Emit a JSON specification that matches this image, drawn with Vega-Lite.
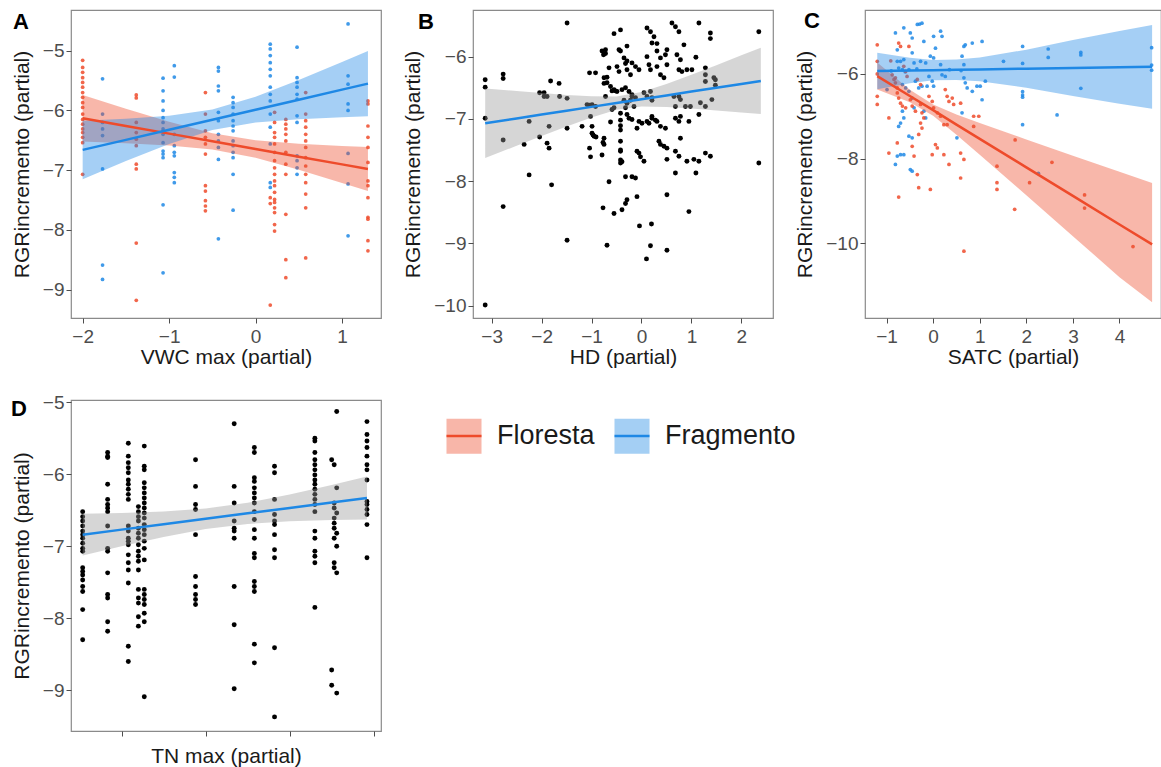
{
  "$schema": "https://vega.github.io/schema/vega-lite/v6.json",
  "background": "white",
  "padding": {"left": 10, "top": 9, "right": 0, "bottom": 0},
  "columns": 3,
  "align": "each",
  "bounds": "flush",
  "spacing": {"row": 82, "column": 92},
  "resolve": {"legend": {"fill": "independent", "stroke": "independent", "color": "independent"}},
  "config": {
    "font": "Liberation Sans",
    "view": {"stroke": "#8a8a8a", "strokeWidth": 1.2},
    "axis": {"grid": false, "domain": false, "tickColor": "#4d4d4d", "tickSize": 5, "labelFontSize": 19, "labelColor": "#4d4d4d", "titleFontSize": 21, "titleColor": "#1a1a1a", "titleFontWeight": "normal", "labelFont": "Liberation Sans", "titleFont": "Liberation Sans", "format": "d"},
    "axisX": {"labelPadding": 4, "titlePadding": 0},
    "axisY": {"labelPadding": 2, "titlePadding": 10},
    "title": {"fontSize": 22, "fontWeight": "bold", "anchor": "start", "frame": "group", "color": "#000000", "baseline": "top", "offset": 0, "font": "Liberation Sans"}
  },
  "datasets": {
    "ptsA": [
      {"x":-2,"y":-5.16,"g":"Floresta"},{"x":-2,"y":-5.28,"g":"Floresta"},{"x":-2,"y":-5.36,"g":"Floresta"},{"x":-2,"y":-5.45,"g":"Floresta"},{"x":-2,"y":-5.53,"g":"Floresta"},{"x":-2,"y":-5.61,"g":"Floresta"},{"x":-2,"y":-5.7,"g":"Floresta"},{"x":-2,"y":-5.78,"g":"Floresta"},{"x":-2,"y":-5.87,"g":"Floresta"},{"x":-2,"y":-5.95,"g":"Floresta"},{"x":-2,"y":-6.06,"g":"Floresta"},{"x":-2,"y":-6.15,"g":"Floresta"},{"x":-2,"y":-6.23,"g":"Floresta"},{"x":-2,"y":-6.31,"g":"Floresta"},{"x":-2,"y":-6.37,"g":"Floresta"},{"x":-2,"y":-6.45,"g":"Floresta"},{"x":-2,"y":-6.54,"g":"Floresta"},{"x":-2,"y":-7.07,"g":"Floresta"},
      {"x":-1.38,"y":-5.74,"g":"Floresta"},{"x":-1.38,"y":-5.79,"g":"Floresta"},{"x":-1.38,"y":-6.2,"g":"Floresta"},{"x":-1.38,"y":-6.37,"g":"Floresta"},{"x":-1.38,"y":-6.48,"g":"Floresta"},{"x":-1.38,"y":-6.59,"g":"Floresta"},{"x":-1.38,"y":-6.9,"g":"Floresta"},{"x":-1.38,"y":-6.98,"g":"Floresta"},{"x":-1.38,"y":-8.22,"g":"Floresta"},{"x":-1.38,"y":-9.18,"g":"Floresta"},
      {"x":-1.07,"y":-6.35,"g":"Floresta"},
      {"x":-0.58,"y":-5.7,"g":"Floresta"},{"x":-0.58,"y":-6.06,"g":"Floresta"},{"x":-0.58,"y":-6.34,"g":"Floresta"},{"x":-0.58,"y":-6.45,"g":"Floresta"},{"x":-0.58,"y":-6.56,"g":"Floresta"},{"x":-0.58,"y":-6.73,"g":"Floresta"},{"x":-0.58,"y":-7.26,"g":"Floresta"},{"x":-0.58,"y":-7.35,"g":"Floresta"},{"x":-0.58,"y":-7.51,"g":"Floresta"},{"x":-0.58,"y":-7.6,"g":"Floresta"},{"x":-0.58,"y":-7.68,"g":"Floresta"},
      {"x":0.17,"y":-7.46,"g":"Floresta"},{"x":0.17,"y":-7.56,"g":"Floresta"},
      {"x":0.22,"y":-6.03,"g":"Floresta"},{"x":0.22,"y":-6.2,"g":"Floresta"},{"x":0.22,"y":-6.37,"g":"Floresta"},{"x":0.22,"y":-6.45,"g":"Floresta"},{"x":0.22,"y":-6.56,"g":"Floresta"},{"x":0.22,"y":-6.7,"g":"Floresta"},{"x":0.22,"y":-6.84,"g":"Floresta"},{"x":0.22,"y":-6.96,"g":"Floresta"},{"x":0.22,"y":-7.07,"g":"Floresta"},{"x":0.22,"y":-7.18,"g":"Floresta"},{"x":0.22,"y":-7.26,"g":"Floresta"},{"x":0.22,"y":-7.37,"g":"Floresta"},{"x":0.22,"y":-7.49,"g":"Floresta"},{"x":0.22,"y":-7.54,"g":"Floresta"},{"x":0.22,"y":-7.63,"g":"Floresta"},{"x":0.22,"y":-7.71,"g":"Floresta"},{"x":0.22,"y":-7.91,"g":"Floresta"},{"x":0.22,"y":-8.02,"g":"Floresta"},{"x":0.17,"y":-9.26,"g":"Floresta"},
      {"x":0.35,"y":-6.15,"g":"Floresta"},{"x":0.35,"y":-6.23,"g":"Floresta"},{"x":0.35,"y":-6.31,"g":"Floresta"},{"x":0.35,"y":-6.4,"g":"Floresta"},{"x":0.35,"y":-6.51,"g":"Floresta"},{"x":0.35,"y":-6.7,"g":"Floresta"},{"x":0.35,"y":-6.9,"g":"Floresta"},{"x":0.35,"y":-7.07,"g":"Floresta"},{"x":0.35,"y":-7.74,"g":"Floresta"},{"x":0.35,"y":-8.5,"g":"Floresta"},{"x":0.35,"y":-8.8,"g":"Floresta"},
      {"x":0.58,"y":-5.7,"g":"Floresta"},{"x":0.58,"y":-6.06,"g":"Floresta"},{"x":0.58,"y":-6.17,"g":"Floresta"},{"x":0.58,"y":-6.28,"g":"Floresta"},{"x":0.58,"y":-6.4,"g":"Floresta"},{"x":0.58,"y":-6.51,"g":"Floresta"},{"x":0.58,"y":-6.62,"g":"Floresta"},{"x":0.58,"y":-6.79,"g":"Floresta"},{"x":0.58,"y":-6.93,"g":"Floresta"},{"x":0.58,"y":-7.07,"g":"Floresta"},{"x":0.58,"y":-7.21,"g":"Floresta"},{"x":0.58,"y":-7.4,"g":"Floresta"},{"x":0.58,"y":-7.63,"g":"Floresta"},{"x":0.58,"y":-8.47,"g":"Floresta"},
      {"x":1.3,"y":-5.84,"g":"Floresta"},{"x":1.3,"y":-5.89,"g":"Floresta"},{"x":1.3,"y":-6.26,"g":"Floresta"},{"x":1.3,"y":-6.45,"g":"Floresta"},{"x":1.3,"y":-6.62,"g":"Floresta"},{"x":1.3,"y":-6.87,"g":"Floresta"},{"x":1.3,"y":-7.18,"g":"Floresta"},{"x":1.3,"y":-7.26,"g":"Floresta"},{"x":1.3,"y":-7.46,"g":"Floresta"},{"x":1.3,"y":-7.79,"g":"Floresta"},{"x":1.3,"y":-7.82,"g":"Floresta"},{"x":1.3,"y":-8.18,"g":"Floresta"},{"x":1.3,"y":-8.35,"g":"Floresta"},
      {"x":-1.77,"y":-5.47,"g":"Fragmento"},{"x":-1.77,"y":-6.06,"g":"Fragmento"},{"x":-1.77,"y":-6.2,"g":"Fragmento"},{"x":-1.77,"y":-6.31,"g":"Fragmento"},{"x":-1.77,"y":-6.42,"g":"Fragmento"},{"x":-1.77,"y":-6.98,"g":"Fragmento"},{"x":-1.77,"y":-8.59,"g":"Fragmento"},{"x":-1.77,"y":-8.83,"g":"Fragmento"},
      {"x":-1.07,"y":-5.46,"g":"Fragmento"},{"x":-1.07,"y":-5.67,"g":"Fragmento"},{"x":-1.07,"y":-5.84,"g":"Fragmento"},{"x":-1.07,"y":-6.0,"g":"Fragmento"},{"x":-1.07,"y":-6.12,"g":"Fragmento"},{"x":-1.07,"y":-6.2,"g":"Fragmento"},{"x":-1.07,"y":-6.31,"g":"Fragmento"},{"x":-1.07,"y":-6.4,"g":"Fragmento"},{"x":-1.07,"y":-6.54,"g":"Fragmento"},{"x":-1.07,"y":-6.68,"g":"Fragmento"},{"x":-1.07,"y":-6.73,"g":"Fragmento"},{"x":-1.07,"y":-6.79,"g":"Fragmento"},{"x":-1.07,"y":-7.58,"g":"Fragmento"},{"x":-1.07,"y":-8.72,"g":"Fragmento"},
      {"x":-0.94,"y":-5.25,"g":"Fragmento"},{"x":-0.94,"y":-5.44,"g":"Fragmento"},{"x":-0.94,"y":-6.4,"g":"Fragmento"},{"x":-0.94,"y":-6.59,"g":"Fragmento"},{"x":-0.94,"y":-6.7,"g":"Fragmento"},{"x":-0.94,"y":-6.76,"g":"Fragmento"},{"x":-0.94,"y":-7.04,"g":"Fragmento"},{"x":-0.94,"y":-7.12,"g":"Fragmento"},{"x":-0.94,"y":-7.21,"g":"Fragmento"},
      {"x":-0.43,"y":-5.28,"g":"Fragmento"},{"x":-0.43,"y":-5.34,"g":"Fragmento"},{"x":-0.43,"y":-5.59,"g":"Fragmento"},{"x":-0.43,"y":-5.67,"g":"Fragmento"},{"x":-0.43,"y":-6.03,"g":"Fragmento"},{"x":-0.43,"y":-6.17,"g":"Fragmento"},{"x":-0.43,"y":-6.4,"g":"Fragmento"},{"x":-0.43,"y":-6.51,"g":"Fragmento"},{"x":-0.43,"y":-6.62,"g":"Fragmento"},{"x":-0.43,"y":-6.82,"g":"Fragmento"},{"x":-0.43,"y":-8.15,"g":"Fragmento"},
      {"x":-0.26,"y":-5.78,"g":"Fragmento"},{"x":-0.26,"y":-5.87,"g":"Fragmento"},{"x":-0.26,"y":-5.95,"g":"Fragmento"},{"x":-0.26,"y":-6.06,"g":"Fragmento"},{"x":-0.26,"y":-6.17,"g":"Fragmento"},{"x":-0.26,"y":-6.26,"g":"Fragmento"},{"x":-0.26,"y":-6.34,"g":"Fragmento"},{"x":-0.26,"y":-6.51,"g":"Fragmento"},{"x":-0.26,"y":-6.59,"g":"Fragmento"},{"x":-0.26,"y":-6.7,"g":"Fragmento"},{"x":-0.26,"y":-6.79,"g":"Fragmento"},{"x":-0.26,"y":-7.07,"g":"Fragmento"},{"x":-0.26,"y":-7.67,"g":"Fragmento"},
      {"x":0.17,"y":-4.89,"g":"Fragmento"},{"x":0.17,"y":-4.97,"g":"Fragmento"},{"x":0.17,"y":-5.08,"g":"Fragmento"},{"x":0.17,"y":-5.2,"g":"Fragmento"},{"x":0.17,"y":-5.31,"g":"Fragmento"},{"x":0.17,"y":-5.42,"g":"Fragmento"},{"x":0.17,"y":-5.61,"g":"Fragmento"},{"x":0.17,"y":-5.73,"g":"Fragmento"},{"x":0.17,"y":-5.84,"g":"Fragmento"},{"x":0.17,"y":-6.06,"g":"Fragmento"},{"x":0.17,"y":-6.28,"g":"Fragmento"},{"x":0.17,"y":-6.56,"g":"Fragmento"},{"x":0.17,"y":-7.21,"g":"Fragmento"},{"x":0.17,"y":-7.29,"g":"Fragmento"},
      {"x":0.48,"y":-4.94,"g":"Fragmento"},{"x":0.48,"y":-5.45,"g":"Fragmento"},{"x":0.48,"y":-5.53,"g":"Fragmento"},{"x":0.48,"y":-5.61,"g":"Fragmento"},{"x":0.48,"y":-5.73,"g":"Fragmento"},{"x":0.48,"y":-5.81,"g":"Fragmento"},{"x":0.48,"y":-6.09,"g":"Fragmento"},{"x":0.48,"y":-6.2,"g":"Fragmento"},{"x":0.48,"y":-6.76,"g":"Fragmento"},{"x":0.48,"y":-6.84,"g":"Fragmento"},{"x":0.48,"y":-6.96,"g":"Fragmento"},{"x":0.48,"y":-7.07,"g":"Fragmento"},
      {"x":1.07,"y":-4.55,"g":"Fragmento"},{"x":1.07,"y":-5.42,"g":"Fragmento"},{"x":1.07,"y":-5.56,"g":"Fragmento"},{"x":1.07,"y":-5.89,"g":"Fragmento"},{"x":1.07,"y":-6.0,"g":"Fragmento"},{"x":1.07,"y":-6.72,"g":"Fragmento"},{"x":1.07,"y":-7.23,"g":"Fragmento"},{"x":1.07,"y":-8.1,"g":"Fragmento"}
    ],
    "bandA": [
      {"x":-2,"fit":-6.13,"lo":-6.52,"hi":-5.74,"g":"Floresta"},{"x":-1.5,"fit":-6.259,"lo":-6.549,"hi":-5.969,"g":"Floresta"},{"x":-1,"fit":-6.388,"lo":-6.588,"hi":-6.188,"g":"Floresta"},{"x":-0.5,"fit":-6.517,"lo":-6.654,"hi":-6.38,"g":"Floresta"},{"x":0,"fit":-6.645,"lo":-6.79,"hi":-6.5,"g":"Floresta"},{"x":0.5,"fit":-6.774,"lo":-6.991,"hi":-6.557,"g":"Floresta"},{"x":1,"fit":-6.903,"lo":-7.213,"hi":-6.593,"g":"Floresta"},{"x":1.3,"fit":-6.98,"lo":-7.35,"hi":-6.61,"g":"Floresta"},
      {"x":-2,"fit":-6.66,"lo":-7.15,"hi":-6.17,"g":"Fragmento"},{"x":-1.5,"fit":-6.492,"lo":-6.847,"hi":-6.137,"g":"Fragmento"},{"x":-1,"fit":-6.324,"lo":-6.56,"hi":-6.088,"g":"Fragmento"},{"x":-0.5,"fit":-6.155,"lo":-6.326,"hi":-5.984,"g":"Fragmento"},{"x":0,"fit":-5.987,"lo":-6.203,"hi":-5.771,"g":"Fragmento"},{"x":0.5,"fit":-5.819,"lo":-6.148,"hi":-5.49,"g":"Fragmento"},{"x":1,"fit":-5.651,"lo":-6.113,"hi":-5.189,"g":"Fragmento"},{"x":1.3,"fit":-5.55,"lo":-6.096,"hi":-5.004,"g":"Fragmento"}
    ],
    "ptsB": [
      {"x":-3.13,"y":-6.37},{"x":-3.13,"y":-6.49},{"x":-3.13,"y":-6.99},{"x":-3.13,"y":-9.99},
      {"x":-2.77,"y":-6.28},{"x":-2.77,"y":-6.35},{"x":-2.77,"y":-7.34},{"x":-2.77,"y":-8.41},
      {"x":-2.35,"y":-7.41},{"x":-2.25,"y":-7.9},{"x":-2.25,"y":-7.04},
      {"x":-2.04,"y":-6.58},{"x":-1.95,"y":-6.58},{"x":-1.95,"y":-6.64},{"x":-2.04,"y":-7.29},{"x":-1.89,"y":-6.64},
      {"x":-1.89,"y":-7.39},{"x":-1.85,"y":-7.47},{"x":-1.85,"y":-7.12},{"x":-1.82,"y":-6.39},{"x":-1.8,"y":-8.06},
      {"x":-1.65,"y":-6.43},{"x":-1.64,"y":-6.64},
      {"x":-1.49,"y":-5.46},{"x":-1.49,"y":-6.67},{"x":-1.49,"y":-7.15},{"x":-1.49,"y":-8.95},
      {"x":-1.19,"y":-7.12},
      {"x":-1.04,"y":-6.26},{"x":-1.04,"y":-6.78},{"x":-1.02,"y":-6.96},{"x":-1.04,"y":-7.47},{"x":-1.02,"y":-7.61},{"x":-0.99,"y":-7.12},{"x":-0.97,"y":-7.26},{"x":-0.91,"y":-7.29},
      {"x":-0.92,"y":-6.8},{"x":-0.79,"y":-7.58},
      {"x":-0.75,"y":-6.43},{"x":-0.75,"y":-7.31},{"x":-0.77,"y":-7.38},{"x":-0.77,"y":-8.43},
      {"x":-0.72,"y":-5.89},{"x":-0.72,"y":-5.95},{"x":-0.69,"y":-9.03},
      {"x":-0.65,"y":-8.01},{"x":-0.69,"y":-6.33},{"x":-0.72,"y":-6.64},
      {"x":-0.55,"y":-5.63},{"x":-0.55,"y":-8.52},{"x":-0.59,"y":-6.55},{"x":-0.52,"y":-6.55},
      {"x":-0.45,"y":-5.89},{"x":-0.42,"y":-5.57},
      {"x":-0.42,"y":-6.91},{"x":-0.42,"y":-7.02},{"x":-0.42,"y":-7.11},{"x":-0.42,"y":-7.18},
      {"x":-0.42,"y":-7.5},{"x":-0.39,"y":-7.69},{"x":-0.42,"y":-7.66},
      {"x":-0.39,"y":-8.46},{"x":-0.32,"y":-8.36},{"x":-0.29,"y":-8.3},
      {"x":-0.32,"y":-6.11},{"x":-0.29,"y":-6.21},{"x":-0.22,"y":-6.29},
      {"x":-0.32,"y":-7.93},{"x":-0.19,"y":-7.93},
      {"x":-0.35,"y":-6.7},{"x":-0.29,"y":-6.75},{"x":-0.22,"y":-6.7},{"x":-0.19,"y":-6.64},{"x":-0.15,"y":-6.8},
      {"x":-0.12,"y":-7.95},{"x":-0.09,"y":-8.25},
      {"x":-0.05,"y":-7.04},{"x":-0.05,"y":-7.55},{"x":-0.02,"y":-7.61},
      {"x":-0.04,"y":-8.72},{"x":0.1,"y":-9.25},
      {"x":0.11,"y":-5.54},{"x":0.18,"y":-5.6},
      {"x":0.18,"y":-6.56},{"x":0.21,"y":-6.7},
      {"x":0.2,"y":-8.69},{"x":0.18,"y":-9.04},
      {"x":0.15,"y":-7.07},{"x":0.21,"y":-6.96},{"x":0.28,"y":-7.02},
      {"x":0.25,"y":-5.68},{"x":0.31,"y":-5.79},
      {"x":0.51,"y":-8.22},{"x":0.51,"y":-9.11},
      {"x":0.61,"y":-5.46},{"x":0.68,"y":-5.52},{"x":0.75,"y":-5.6},
      {"x":0.95,"y":-8.49},{"x":1.15,"y":-5.46},
      {"x":1.38,"y":-5.62},{"x":1.38,"y":-5.71},
      {"x":1.48,"y":-6.37},{"x":1.48,"y":-6.46},
      {"x":1.38,"y":-7.6},{"x":2.35,"y":-5.6},{"x":2.35,"y":-7.71},
      {"x":-0.79,"y":-5.91},{"x":-0.76,"y":-5.97},{"x":-0.42,"y":-5.91},{"x":-0.29,"y":-5.83},{"x":0.21,"y":-5.78},{"x":0.31,"y":-5.91},{"x":0.38,"y":-6.02},{"x":0.51,"y":-5.89},{"x":0.48,"y":-5.97},{"x":0.71,"y":-5.97},{"x":0.78,"y":-6.05},{"x":0.85,"y":-5.81},{"x":1.09,"y":-6.01},
      {"x":-0.35,"y":-6.02},{"x":-0.29,"y":-6.07},{"x":-0.19,"y":-6.1},
      {"x":-0.65,"y":-6.18},{"x":-0.49,"y":-6.16},{"x":-0.45,"y":-6.24},
      {"x":-0.12,"y":-6.16},{"x":-0.05,"y":-6.21},
      {"x":0.11,"y":-6.0},{"x":0.15,"y":-6.13},{"x":0.18,"y":-6.21},
      {"x":0.31,"y":-6.16},{"x":0.38,"y":-6.29},{"x":0.45,"y":-6.34},{"x":0.51,"y":-6.13},
      {"x":0.75,"y":-6.21},{"x":0.81,"y":-6.24},{"x":0.91,"y":-6.21},{"x":1.01,"y":-6.21},
      {"x":1.28,"y":-6.18},{"x":1.28,"y":-6.29},{"x":1.28,"y":-6.4},{"x":1.45,"y":-6.34},
      {"x":-0.92,"y":-6.26},{"x":-0.75,"y":-6.34},{"x":-0.69,"y":-6.42},
      {"x":-0.62,"y":-6.48},{"x":-0.55,"y":-6.53},{"x":-0.49,"y":-6.56},{"x":-0.39,"y":-6.53},
      {"x":-0.32,"y":-6.5},{"x":-0.25,"y":-6.56},{"x":-0.19,"y":-6.61},{"x":-0.12,"y":-6.66},
      {"x":0.05,"y":-6.58},{"x":0.11,"y":-6.64},{"x":0.21,"y":-6.66},
      {"x":0.65,"y":-6.64},{"x":0.75,"y":-6.64},{"x":0.78,"y":-6.69},
      {"x":0.68,"y":-6.8},{"x":0.88,"y":-6.8},{"x":0.98,"y":-6.8},
      {"x":1.18,"y":-6.74},{"x":1.28,"y":-6.8},{"x":1.41,"y":-6.69},{"x":1.15,"y":-6.93},
      {"x":-1.09,"y":-6.77},{"x":-0.99,"y":-6.77},
      {"x":-0.99,"y":-7.23},{"x":-0.95,"y":-7.28},{"x":-0.75,"y":-7.41},{"x":-0.59,"y":-6.85},
      {"x":-0.32,"y":-6.82},{"x":-0.29,"y":-6.93},{"x":-0.25,"y":-6.99},{"x":-0.19,"y":-7.01},
      {"x":-0.09,"y":-7.15},{"x":0.01,"y":-7.07},{"x":0.11,"y":-7.04},
      {"x":0.21,"y":-6.99},{"x":0.31,"y":-7.04},{"x":0.38,"y":-7.12},{"x":0.48,"y":-7.15},
      {"x":0.68,"y":-6.99},{"x":0.75,"y":-7.04},{"x":0.78,"y":-6.96},{"x":0.95,"y":-7.04},{"x":0.78,"y":-7.31},
      {"x":0.35,"y":-7.36},{"x":0.38,"y":-7.41},{"x":0.45,"y":-7.44},{"x":0.51,"y":-7.47},
      {"x":-0.42,"y":-7.36},{"x":-0.42,"y":-7.52},{"x":-0.42,"y":-7.71},
      {"x":-0.09,"y":-7.52},{"x":0.05,"y":-7.68},{"x":0.51,"y":-7.65},
      {"x":0.68,"y":-7.52},{"x":0.75,"y":-7.6},
      {"x":0.91,"y":-7.68},{"x":1.05,"y":-7.65},{"x":1.15,"y":-7.68},{"x":1.28,"y":-7.55},
      {"x":0.68,"y":-7.87},{"x":1.09,"y":-7.87},{"x":-0.55,"y":-6.82},{"x":-0.62,"y":-7.05}
    ],
    "bandB": [
      {"x":-3.13,"fit":-7.07,"lo":-7.63,"hi":-6.51},{"x":-2.5,"fit":-6.992,"lo":-7.432,"hi":-6.552},{"x":-2,"fit":-6.931,"lo":-7.277,"hi":-6.585},{"x":-1.5,"fit":-6.869,"lo":-7.123,"hi":-6.615},{"x":-1,"fit":-6.807,"lo":-6.976,"hi":-6.638},{"x":-0.5,"fit":-6.746,"lo":-6.853,"hi":-6.639},{"x":0,"fit":-6.684,"lo":-6.8,"hi":-6.568},{"x":0.5,"fit":-6.623,"lo":-6.808,"hi":-6.438},{"x":1,"fit":-6.561,"lo":-6.833,"hi":-6.289},{"x":1.5,"fit":-6.5,"lo":-6.864,"hi":-6.136},{"x":2,"fit":-6.438,"lo":-6.897,"hi":-5.979},{"x":2.39,"fit":-6.39,"lo":-6.923,"hi":-5.857}
    ],
    "ptsC": [
      {"x":-0.81,"y":-5.03,"g":"Fragmento"},{"x":-0.63,"y":-4.91,"g":"Fragmento"},{"x":-0.49,"y":-5.03,"g":"Fragmento"},{"x":-0.45,"y":-5.15,"g":"Fragmento"},{"x":-0.34,"y":-4.83,"g":"Fragmento"},{"x":-0.29,"y":-4.82,"g":"Fragmento"},{"x":-0.24,"y":-4.8,"g":"Fragmento"},{"x":-0.2,"y":-5.23,"g":"Fragmento"},{"x":0.01,"y":-5.11,"g":"Fragmento"},{"x":0.05,"y":-5.39,"g":"Fragmento"},{"x":0.16,"y":-4.99,"g":"Fragmento"},{"x":0.19,"y":-5.11,"g":"Fragmento"},{"x":0.66,"y":-5.35,"g":"Fragmento"},{"x":0.69,"y":-5.31,"g":"Fragmento"},{"x":0.84,"y":-5.27,"g":"Fragmento"},{"x":1.05,"y":-5.23,"g":"Fragmento"},
      {"x":-0.77,"y":-5.43,"g":"Fragmento"},{"x":-0.7,"y":-5.7,"g":"Fragmento"},{"x":-0.63,"y":-5.66,"g":"Fragmento"},{"x":-0.45,"y":-5.5,"g":"Fragmento"},{"x":-0.77,"y":-5.7,"g":"Fragmento"},{"x":-0.74,"y":-5.86,"g":"Fragmento"},{"x":-0.66,"y":-5.9,"g":"Fragmento"},{"x":-0.52,"y":-5.9,"g":"Fragmento"},{"x":-0.41,"y":-5.74,"g":"Fragmento"},{"x":-0.27,"y":-5.7,"g":"Fragmento"},{"x":-0.16,"y":-5.74,"g":"Fragmento"},{"x":-0.06,"y":-5.58,"g":"Fragmento"},{"x":0.01,"y":-5.62,"g":"Fragmento"},{"x":0.16,"y":-5.78,"g":"Fragmento"},{"x":0.19,"y":-6.02,"g":"Fragmento"},{"x":0.26,"y":-6.06,"g":"Fragmento"},{"x":0.62,"y":-5.58,"g":"Fragmento"},{"x":0.66,"y":-5.78,"g":"Fragmento"},{"x":0.66,"y":-6.09,"g":"Fragmento"},{"x":0.69,"y":-6.21,"g":"Fragmento"},{"x":0.73,"y":-6.33,"g":"Fragmento"},{"x":0.84,"y":-6.41,"g":"Fragmento"},{"x":0.94,"y":-6.29,"g":"Fragmento"},{"x":1.01,"y":-6.29,"g":"Fragmento"},{"x":1.12,"y":-6.17,"g":"Fragmento"},{"x":1.05,"y":-6.61,"g":"Fragmento"},{"x":1.51,"y":-5.7,"g":"Fragmento"},
      {"x":-0.99,"y":-6.37,"g":"Fragmento"},{"x":-0.66,"y":-6.25,"g":"Fragmento"},{"x":-0.59,"y":-6.33,"g":"Fragmento"},{"x":-0.52,"y":-6.41,"g":"Fragmento"},{"x":-0.38,"y":-6.17,"g":"Fragmento"},{"x":-0.31,"y":-6.33,"g":"Fragmento"},{"x":-0.24,"y":-6.29,"g":"Fragmento"},{"x":-0.13,"y":-6.29,"g":"Fragmento"},{"x":-0.09,"y":-6.06,"g":"Fragmento"},{"x":-0.02,"y":-6.17,"g":"Fragmento"},{"x":0.01,"y":-6.29,"g":"Fragmento"},{"x":-0.45,"y":-6.57,"g":"Fragmento"},{"x":-0.41,"y":-6.8,"g":"Fragmento"},{"x":-0.66,"y":-6.88,"g":"Fragmento"},{"x":-0.63,"y":-7.04,"g":"Fragmento"},{"x":-0.7,"y":-7.16,"g":"Fragmento"},{"x":-0.74,"y":-7.24,"g":"Fragmento"},{"x":-0.2,"y":-6.88,"g":"Fragmento"},{"x":-0.16,"y":-7.04,"g":"Fragmento"},{"x":0.62,"y":-6.92,"g":"Fragmento"},{"x":-0.52,"y":-7.47,"g":"Fragmento"},{"x":-0.45,"y":-7.51,"g":"Fragmento"},{"x":-0.77,"y":-7.94,"g":"Fragmento"},{"x":-0.7,"y":-7.91,"g":"Fragmento"},{"x":-0.63,"y":-7.91,"g":"Fragmento"},{"x":-0.81,"y":-8.14,"g":"Fragmento"},{"x":-0.49,"y":-8.26,"g":"Fragmento"},{"x":-0.45,"y":-8.3,"g":"Fragmento"},{"x":0.51,"y":-7.51,"g":"Fragmento"},
      {"x":-0.9,"y":-5.93,"g":"Fragmento"},{"x":-0.6,"y":-5.95,"g":"Fragmento"},{"x":-0.35,"y":-5.88,"g":"Fragmento"},{"x":0.35,"y":-5.9,"g":"Fragmento"},{"x":0.6,"y":-5.92,"g":"Fragmento"},
      {"x":1.92,"y":-5.35,"g":"Fragmento"},{"x":1.92,"y":-5.75,"g":"Fragmento"},{"x":1.92,"y":-6.42,"g":"Fragmento"},{"x":1.92,"y":-6.5,"g":"Fragmento"},{"x":1.92,"y":-6.55,"g":"Fragmento"},{"x":1.92,"y":-7.2,"g":"Fragmento"},{"x":2.47,"y":-5.41,"g":"Fragmento"},{"x":2.47,"y":-5.61,"g":"Fragmento"},{"x":3.17,"y":-5.49,"g":"Fragmento"},{"x":3.17,"y":-5.55,"g":"Fragmento"},{"x":3.17,"y":-6.34,"g":"Fragmento"},{"x":2.66,"y":-6.97,"g":"Fragmento"},{"x":4.69,"y":-5.38,"g":"Fragmento"},{"x":4.69,"y":-5.79,"g":"Fragmento"},{"x":4.69,"y":-5.91,"g":"Fragmento"},{"x":2.26,"y":-8.35,"g":"Fragmento"},
      {"x":-1.2,"y":-5.31,"g":"Floresta"},{"x":-1.2,"y":-5.7,"g":"Floresta"},{"x":-1.2,"y":-6.53,"g":"Floresta"},{"x":-1.2,"y":-6.72,"g":"Floresta"},{"x":-1.2,"y":-6.0,"g":"Floresta"},{"x":-0.91,"y":-5.69,"g":"Floresta"},{"x":-0.74,"y":-5.27,"g":"Floresta"},{"x":-0.7,"y":-5.35,"g":"Floresta"},{"x":-0.52,"y":-5.35,"g":"Floresta"},{"x":-0.63,"y":-5.82,"g":"Floresta"},{"x":-0.59,"y":-5.94,"g":"Floresta"},{"x":-0.56,"y":-6.06,"g":"Floresta"},{"x":-0.81,"y":-6.21,"g":"Floresta"},{"x":-0.77,"y":-6.33,"g":"Floresta"},{"x":-0.77,"y":-6.45,"g":"Floresta"},{"x":-0.74,"y":-6.57,"g":"Floresta"},{"x":-0.7,"y":-6.69,"g":"Floresta"},{"x":-0.66,"y":-6.76,"g":"Floresta"},{"x":-0.59,"y":-6.8,"g":"Floresta"},{"x":-0.49,"y":-6.61,"g":"Floresta"},{"x":-0.45,"y":-6.76,"g":"Floresta"},{"x":-0.38,"y":-6.88,"g":"Floresta"},{"x":-0.34,"y":-6.13,"g":"Floresta"},{"x":-0.27,"y":-6.25,"g":"Floresta"},{"x":-0.27,"y":-6.72,"g":"Floresta"},{"x":-0.24,"y":-6.92,"g":"Floresta"},{"x":-0.2,"y":-7.04,"g":"Floresta"},{"x":-0.27,"y":-7.16,"g":"Floresta"},{"x":-0.24,"y":-7.28,"g":"Floresta"},{"x":-0.31,"y":-7.43,"g":"Floresta"},{"x":-0.09,"y":-6.53,"g":"Floresta"},{"x":-0.02,"y":-6.65,"g":"Floresta"},{"x":0.01,"y":-6.8,"g":"Floresta"},{"x":0.09,"y":-6.92,"g":"Floresta"},{"x":0.16,"y":-7.0,"g":"Floresta"},{"x":0.23,"y":-7.2,"g":"Floresta"},{"x":0.3,"y":-7.2,"g":"Floresta"},{"x":0.26,"y":-6.37,"g":"Floresta"},{"x":0.3,"y":-6.53,"g":"Floresta"},{"x":0.34,"y":-6.65,"g":"Floresta"},{"x":0.41,"y":-6.57,"g":"Floresta"},{"x":0.44,"y":-6.72,"g":"Floresta"},{"x":0.59,"y":-6.69,"g":"Floresta"},{"x":0.87,"y":-7.0,"g":"Floresta"},{"x":0.98,"y":-7.0,"g":"Floresta"},{"x":0.87,"y":-7.24,"g":"Floresta"},{"x":-0.95,"y":-7.04,"g":"Floresta"},{"x":-0.77,"y":-7.63,"g":"Floresta"},{"x":-0.95,"y":-7.87,"g":"Floresta"},{"x":-0.45,"y":-7.71,"g":"Floresta"},{"x":-0.41,"y":-7.94,"g":"Floresta"},{"x":-0.34,"y":-8.38,"g":"Floresta"},{"x":-0.31,"y":-8.69,"g":"Floresta"},{"x":-0.06,"y":-8.73,"g":"Floresta"},{"x":-0.74,"y":-8.91,"g":"Floresta"},{"x":-0.02,"y":-7.91,"g":"Floresta"},{"x":0.05,"y":-7.67,"g":"Floresta"},{"x":0.09,"y":-7.75,"g":"Floresta"},{"x":0.23,"y":-7.91,"g":"Floresta"},{"x":0.34,"y":-8.14,"g":"Floresta"},{"x":0.59,"y":-7.87,"g":"Floresta"},{"x":0.66,"y":-8.02,"g":"Floresta"},{"x":0.59,"y":-8.46,"g":"Floresta"},{"x":0.66,"y":-10.19,"g":"Floresta"},{"x":1.37,"y":-8.18,"g":"Floresta"},{"x":1.37,"y":-8.57,"g":"Floresta"},{"x":1.37,"y":-8.73,"g":"Floresta"},{"x":-0.88,"y":-6.02,"g":"Floresta"},{"x":-0.84,"y":-6.13,"g":"Floresta"},{"x":-0.81,"y":-6.09,"g":"Floresta"},
      {"x":1.76,"y":-7.56,"g":"Floresta"},{"x":2.55,"y":-8.09,"g":"Floresta"},{"x":2.07,"y":-8.57,"g":"Floresta"},{"x":1.75,"y":-9.2,"g":"Floresta"},{"x":3.25,"y":-8.86,"g":"Floresta"},{"x":3.25,"y":-9.17,"g":"Floresta"},{"x":4.29,"y":-10.08,"g":"Floresta"}
    ],
    "bandC": [
      {"x":-1.2,"fit":-6.05,"lo":-6.368,"hi":-5.732,"g":"Floresta"},{"x":-0.5,"fit":-6.522,"lo":-6.671,"hi":-6.373,"g":"Floresta"},{"x":0,"fit":-6.855,"lo":-6.989,"hi":-6.721,"g":"Floresta"},{"x":0.5,"fit":-7.197,"lo":-7.436,"hi":-6.958,"g":"Floresta"},{"x":1,"fit":-7.534,"lo":-7.908,"hi":-7.16,"g":"Floresta"},{"x":2,"fit":-8.209,"lo":-8.869,"hi":-7.549,"g":"Floresta"},{"x":3,"fit":-8.884,"lo":-9.835,"hi":-7.933,"g":"Floresta"},{"x":4,"fit":-9.559,"lo":-10.804,"hi":-8.314,"g":"Floresta"},{"x":4.7,"fit":-10.03,"lo":-11.4,"hi":-8.58,"g":"Floresta"},
      {"x":-1.2,"fit":-5.93,"lo":-6.36,"hi":-5.5,"g":"Fragmento"},{"x":-0.5,"fit":-5.918,"lo":-6.218,"hi":-5.618,"g":"Fragmento"},{"x":0,"fit":-5.91,"lo":-6.15,"hi":-5.67,"g":"Fragmento"},{"x":0.5,"fit":-5.901,"lo":-6.141,"hi":-5.661,"g":"Fragmento"},{"x":1,"fit":-5.893,"lo":-6.173,"hi":-5.613,"g":"Fragmento"},{"x":2,"fit":-5.876,"lo":-6.326,"hi":-5.426,"g":"Fragmento"},{"x":3,"fit":-5.859,"lo":-6.519,"hi":-5.199,"g":"Fragmento"},{"x":4,"fit":-5.842,"lo":-6.702,"hi":-4.982,"g":"Fragmento"},{"x":4.7,"fit":-5.83,"lo":-6.82,"hi":-4.84,"g":"Fragmento"}
    ],
    "ptsD": [
      {"x":0.537,"y":-6.52},{"x":0.537,"y":-6.59},{"x":0.537,"y":-6.65},{"x":0.537,"y":-6.72},{"x":0.537,"y":-6.79},{"x":0.537,"y":-6.84},{"x":0.537,"y":-6.89},{"x":0.537,"y":-6.96},{"x":0.537,"y":-7.03},{"x":0.537,"y":-7.07},{"x":0.537,"y":-7.3},{"x":0.537,"y":-7.35},{"x":0.537,"y":-7.4},{"x":0.537,"y":-7.47},{"x":0.537,"y":-7.56},{"x":0.537,"y":-7.63},{"x":0.537,"y":-7.88},{"x":0.537,"y":-8.3},
      {"x":0.834,"y":-5.7},{"x":0.834,"y":-5.75},{"x":0.834,"y":-5.77},{"x":0.834,"y":-6.14},{"x":0.834,"y":-6.35},{"x":0.834,"y":-6.42},{"x":0.834,"y":-6.47},{"x":0.834,"y":-6.52},{"x":0.834,"y":-6.72},{"x":0.834,"y":-7.03},{"x":0.834,"y":-7.07},{"x":0.834,"y":-7.37},{"x":0.834,"y":-7.67},{"x":0.834,"y":-7.72},{"x":0.834,"y":-8.05},{"x":0.834,"y":-8.18},
      {"x":1.08,"y":-5.57},{"x":1.08,"y":-5.75},{"x":1.08,"y":-5.84},{"x":1.08,"y":-5.91},{"x":1.08,"y":-5.98},{"x":1.08,"y":-6.08},{"x":1.08,"y":-6.14},{"x":1.08,"y":-6.21},{"x":1.08,"y":-6.28},{"x":1.08,"y":-6.35},{"x":1.08,"y":-6.72},{"x":1.08,"y":-6.79},{"x":1.08,"y":-6.89},{"x":1.08,"y":-6.93},{"x":1.08,"y":-6.98},{"x":1.08,"y":-7.12},{"x":1.08,"y":-7.23},{"x":1.08,"y":-7.33},{"x":1.08,"y":-7.51},{"x":1.08,"y":-8.39},{"x":1.08,"y":-8.6},
      {"x":1.2,"y":-6.45},{"x":1.2,"y":-6.52},{"x":1.2,"y":-6.59},{"x":1.2,"y":-6.65},{"x":1.2,"y":-6.75},{"x":1.2,"y":-6.82},{"x":1.2,"y":-6.89},{"x":1.2,"y":-6.98},{"x":1.2,"y":-7.07},{"x":1.2,"y":-7.14},{"x":1.2,"y":-7.21},{"x":1.2,"y":-7.33},{"x":1.2,"y":-7.6},{"x":1.2,"y":-7.72},{"x":1.2,"y":-7.79},{"x":1.2,"y":-7.98},{"x":1.2,"y":-8.11},
      {"x":1.27,"y":-5.61},{"x":1.27,"y":-5.89},{"x":1.27,"y":-5.94},{"x":1.27,"y":-6.12},{"x":1.27,"y":-6.19},{"x":1.27,"y":-6.26},{"x":1.27,"y":-6.33},{"x":1.27,"y":-6.4},{"x":1.27,"y":-6.47},{"x":1.27,"y":-6.54},{"x":1.27,"y":-6.61},{"x":1.27,"y":-6.7},{"x":1.27,"y":-6.77},{"x":1.27,"y":-6.84},{"x":1.27,"y":-6.93},{"x":1.27,"y":-7.03},{"x":1.27,"y":-7.19},{"x":1.27,"y":-7.6},{"x":1.27,"y":-7.67},{"x":1.27,"y":-7.74},{"x":1.27,"y":-7.81},{"x":1.27,"y":-7.93},{"x":1.27,"y":-8.05},{"x":1.27,"y":-9.09},
      {"x":1.88,"y":-5.8},{"x":1.88,"y":-6.17},{"x":1.88,"y":-6.42},{"x":1.88,"y":-6.49},{"x":1.88,"y":-6.84},{"x":1.88,"y":-7.42},{"x":1.88,"y":-7.56},{"x":1.88,"y":-7.67},{"x":1.88,"y":-7.74},{"x":1.88,"y":-7.81},
      {"x":2.34,"y":-5.3},{"x":2.34,"y":-6.17},{"x":2.34,"y":-6.4},{"x":2.34,"y":-6.65},{"x":2.34,"y":-6.75},{"x":2.34,"y":-6.79},{"x":2.34,"y":-6.89},{"x":2.34,"y":-7.56},{"x":2.34,"y":-8.09},{"x":2.34,"y":-8.98},
      {"x":2.58,"y":-5.63},{"x":2.58,"y":-5.7},{"x":2.58,"y":-6.05},{"x":2.58,"y":-6.1},{"x":2.58,"y":-6.19},{"x":2.58,"y":-6.26},{"x":2.58,"y":-6.33},{"x":2.58,"y":-6.4},{"x":2.58,"y":-6.52},{"x":2.58,"y":-6.63},{"x":2.58,"y":-6.77},{"x":2.58,"y":-6.89},{"x":2.58,"y":-7.1},{"x":2.58,"y":-7.16},{"x":2.58,"y":-7.49},{"x":2.58,"y":-7.56},{"x":2.58,"y":-7.63},{"x":2.58,"y":-8.36},{"x":2.58,"y":-8.62},
      {"x":2.82,"y":-5.89},{"x":2.82,"y":-5.98},{"x":2.82,"y":-6.35},{"x":2.82,"y":-6.56},{"x":2.82,"y":-6.65},{"x":2.82,"y":-6.7},{"x":2.82,"y":-6.84},{"x":2.82,"y":-7.05},{"x":2.82,"y":-7.16},{"x":2.82,"y":-8.41},{"x":2.82,"y":-9.37},
      {"x":3.3,"y":-5.5},{"x":3.3,"y":-5.54},{"x":3.3,"y":-5.7},{"x":3.3,"y":-5.8},{"x":3.3,"y":-5.87},{"x":3.3,"y":-5.94},{"x":3.3,"y":-6.01},{"x":3.3,"y":-6.08},{"x":3.3,"y":-6.14},{"x":3.3,"y":-6.21},{"x":3.3,"y":-6.28},{"x":3.3,"y":-6.35},{"x":3.3,"y":-6.42},{"x":3.3,"y":-6.52},{"x":3.3,"y":-6.79},{"x":3.3,"y":-6.89},{"x":3.3,"y":-7.07},{"x":3.3,"y":-7.14},{"x":3.3,"y":-7.23},{"x":3.3,"y":-7.85},
      {"x":3.56,"y":-5.13},{"x":3.5,"y":-5.8},{"x":3.53,"y":-5.87},{"x":3.56,"y":-6.19},{"x":3.53,"y":-6.4},{"x":3.53,"y":-6.47},{"x":3.56,"y":-6.54},{"x":3.53,"y":-6.61},{"x":3.53,"y":-6.68},{"x":3.53,"y":-6.75},{"x":3.56,"y":-6.82},{"x":3.53,"y":-6.89},{"x":3.56,"y":-7.0},{"x":3.53,"y":-7.23},{"x":3.53,"y":-7.3},{"x":3.56,"y":-7.37},{"x":3.5,"y":-8.72},{"x":3.5,"y":-8.93},{"x":3.56,"y":-9.04},
      {"x":3.92,"y":-5.27},{"x":3.92,"y":-5.45},{"x":3.92,"y":-5.54},{"x":3.92,"y":-5.63},{"x":3.92,"y":-5.75},{"x":3.92,"y":-5.87},{"x":3.92,"y":-5.94},{"x":3.92,"y":-6.08},{"x":3.92,"y":-6.38},{"x":3.92,"y":-6.42},{"x":3.92,"y":-6.49},{"x":3.92,"y":-6.56},{"x":3.92,"y":-6.7},{"x":3.92,"y":-7.16}
    ],
    "bandD": [
      {"x":0.537,"fit":-6.84,"lo":-7.13,"hi":-6.55},{"x":1,"fit":-6.77,"lo":-7.001,"hi":-6.539},{"x":1.5,"fit":-6.695,"lo":-6.871,"hi":-6.519},{"x":2,"fit":-6.619,"lo":-6.762,"hi":-6.476},{"x":2.5,"fit":-6.544,"lo":-6.691,"hi":-6.397},{"x":3,"fit":-6.469,"lo":-6.655,"hi":-6.283},{"x":3.5,"fit":-6.393,"lo":-6.636,"hi":-6.15},{"x":3.92,"fit":-6.33,"lo":-6.628,"hi":-6.032}
    ]
  },
  "concat": [
    {
      "width": 310, "height": 308,
      "title": {"text": "A", "dx": -58, "dy": 28},
      "layer": [
        {"data": {"name": "ptsA"}, "mark": {"type": "point", "filled": true, "size": 14, "opacity": 0.85},
          "encoding": {
            "x": {"field": "x", "type": "quantitative", "title": "VWC max (partial)", "scale": {"domain": [-2.135, 1.451], "nice": false, "zero": false}, "axis": {"values": [-2, -1, 0, 1]}},
            "y": {"field": "y", "type": "quantitative", "title": "RGRincremento (partial)", "scale": {"domain": [-9.476, -4.317], "nice": false, "zero": false}, "axis": {"values": [-9, -8, -7, -6, -5]}},
            "color": {"field": "g", "type": "nominal", "scale": {"range": ["#EE4B2B", "#1E88E5"]}, "legend": null}
          }},
        {"data": {"name": "bandA"}, "mark": {"type": "area", "opacity": 0.4},
          "encoding": {
            "x": {"field": "x", "type": "quantitative", "title": "VWC max (partial)"},
            "y": {"field": "lo", "type": "quantitative", "title": "RGRincremento (partial)"},
            "y2": {"field": "hi"},
            "fill": {"field": "g", "type": "nominal", "scale": {"domain": ["Floresta", "Fragmento"], "range": ["#EE4B2B", "#1E88E5"]},
              "legend": {"title": null, "orient": "none", "legendX": 374, "legendY": 407, "direction": "horizontal", "symbolType": "square", "symbolSize": 1225, "symbolOpacity": 0.4, "symbolStrokeWidth": 2.5, "symbolStrokeColor": "transparent", "labelFontSize": 27, "labelColor": "#1a1a1a", "labelFont": "Liberation Sans", "labelOffset": 14, "columnPadding": 14, "labelLimit": 400}}
          }},
        {"data": {"name": "bandA"}, "mark": {"type": "line", "strokeWidth": 2.5},
          "encoding": {
            "x": {"field": "x", "type": "quantitative", "title": "VWC max (partial)"},
            "y": {"field": "fit", "type": "quantitative", "title": "RGRincremento (partial)"},
            "stroke": {"field": "g", "type": "nominal", "scale": {"range": ["#EE4B2B", "#1E88E5"]}, "legend": null}
          }}
      ]
    },
    {
      "width": 300, "height": 308,
      "title": {"text": "B", "dx": -55, "dy": 28},
      "layer": [
        {"data": {"name": "ptsB"}, "mark": {"type": "point", "filled": true, "size": 24, "color": "#000000", "opacity": 1},
          "encoding": {
            "x": {"field": "x", "type": "quantitative", "title": "HD (partial)", "scale": {"domain": [-3.374, 2.634], "nice": false, "zero": false}, "axis": {"values": [-3, -2, -1, 0, 1, 2]}},
            "y": {"field": "y", "type": "quantitative", "title": "RGRincremento (partial)", "scale": {"domain": [-10.2, -5.25], "nice": false, "zero": false}, "axis": {"values": [-10, -9, -8, -7, -6]}}
          }},
        {"data": {"name": "bandB"}, "mark": {"type": "area", "color": "#999999", "opacity": 0.4},
          "encoding": {
            "x": {"field": "x", "type": "quantitative", "title": "HD (partial)"},
            "y": {"field": "lo", "type": "quantitative", "title": "RGRincremento (partial)"},
            "y2": {"field": "hi"}
          }},
        {"data": {"name": "bandB"}, "mark": {"type": "line", "color": "#1E88E5", "strokeWidth": 2.5},
          "encoding": {
            "x": {"field": "x", "type": "quantitative", "title": "HD (partial)"},
            "y": {"field": "fit", "type": "quantitative", "title": "RGRincremento (partial)"}
          }}
      ]
    },
    {
      "width": 296, "height": 308,
      "title": {"text": "C", "dx": -61, "dy": 27},
      "layer": [
        {"data": {"name": "ptsC"}, "mark": {"type": "point", "filled": true, "size": 14, "opacity": 0.85},
          "encoding": {
            "x": {"field": "x", "type": "quantitative", "title": "SATC (partial)", "scale": {"domain": [-1.463, 4.891], "nice": false, "zero": false}, "axis": {"values": [-1, 0, 1, 2, 3, 4]}},
            "y": {"field": "y", "type": "quantitative", "title": "RGRincremento (partial)", "scale": {"domain": [-11.77, -4.488], "nice": false, "zero": false}, "axis": {"values": [-10, -8, -6]}},
            "color": {"field": "g", "type": "nominal", "scale": {"range": ["#EE4B2B", "#1E88E5"]}, "legend": null}
          }},
        {"data": {"name": "bandC"}, "mark": {"type": "area", "opacity": 0.4},
          "encoding": {
            "x": {"field": "x", "type": "quantitative", "title": "SATC (partial)"},
            "y": {"field": "lo", "type": "quantitative", "title": "RGRincremento (partial)"},
            "y2": {"field": "hi"},
            "fill": {"field": "g", "type": "nominal", "scale": {"domain": ["Floresta", "Fragmento"], "range": ["#EE4B2B", "#1E88E5"]}, "legend": null}
          }},
        {"data": {"name": "bandC"}, "mark": {"type": "line", "strokeWidth": 2.5},
          "encoding": {
            "x": {"field": "x", "type": "quantitative", "title": "SATC (partial)"},
            "y": {"field": "fit", "type": "quantitative", "title": "RGRincremento (partial)"},
            "stroke": {"field": "g", "type": "nominal", "scale": {"range": ["#EE4B2B", "#1E88E5"]},
              "legend": {"title": null, "orient": "none", "legendX": -420, "legendY": 407, "direction": "horizontal", "symbolType": "M-1,0L1,0", "symbolSize": 1225, "symbolStrokeWidth": 2.5, "symbolOpacity": 1, "labelFontSize": 27, "labelOpacity": 0, "labelFont": "Liberation Sans", "labelOffset": 14, "columnPadding": 14, "labelLimit": 400}}
          }}
      ]
    },
    {
      "width": 310, "height": 331,
      "title": {"text": "D", "dx": -60, "dy": 32},
      "layer": [
        {"data": {"name": "ptsD"}, "mark": {"type": "point", "filled": true, "size": 24, "color": "#000000", "opacity": 1},
          "encoding": {
            "x": {"field": "x", "type": "quantitative", "title": "TN max (partial)", "scale": {"domain": [0.398, 4.087], "nice": false, "zero": false}, "axis": {"values": [1, 2, 3, 4], "labels": false, "titlePadding": 9}},
            "y": {"field": "y", "type": "quantitative", "title": "RGRincremento (partial)", "scale": {"domain": [-9.566, -4.97], "nice": false, "zero": false}, "axis": {"values": [-9, -8, -7, -6, -5]}}
          }},
        {"data": {"name": "bandD"}, "mark": {"type": "area", "color": "#999999", "opacity": 0.4},
          "encoding": {
            "x": {"field": "x", "type": "quantitative", "title": "TN max (partial)"},
            "y": {"field": "lo", "type": "quantitative", "title": "RGRincremento (partial)"},
            "y2": {"field": "hi"}
          }},
        {"data": {"name": "bandD"}, "mark": {"type": "line", "color": "#1E88E5", "strokeWidth": 2.5},
          "encoding": {
            "x": {"field": "x", "type": "quantitative", "title": "TN max (partial)"},
            "y": {"field": "fit", "type": "quantitative", "title": "RGRincremento (partial)"}
          }}
      ]
    }
  ]
}
